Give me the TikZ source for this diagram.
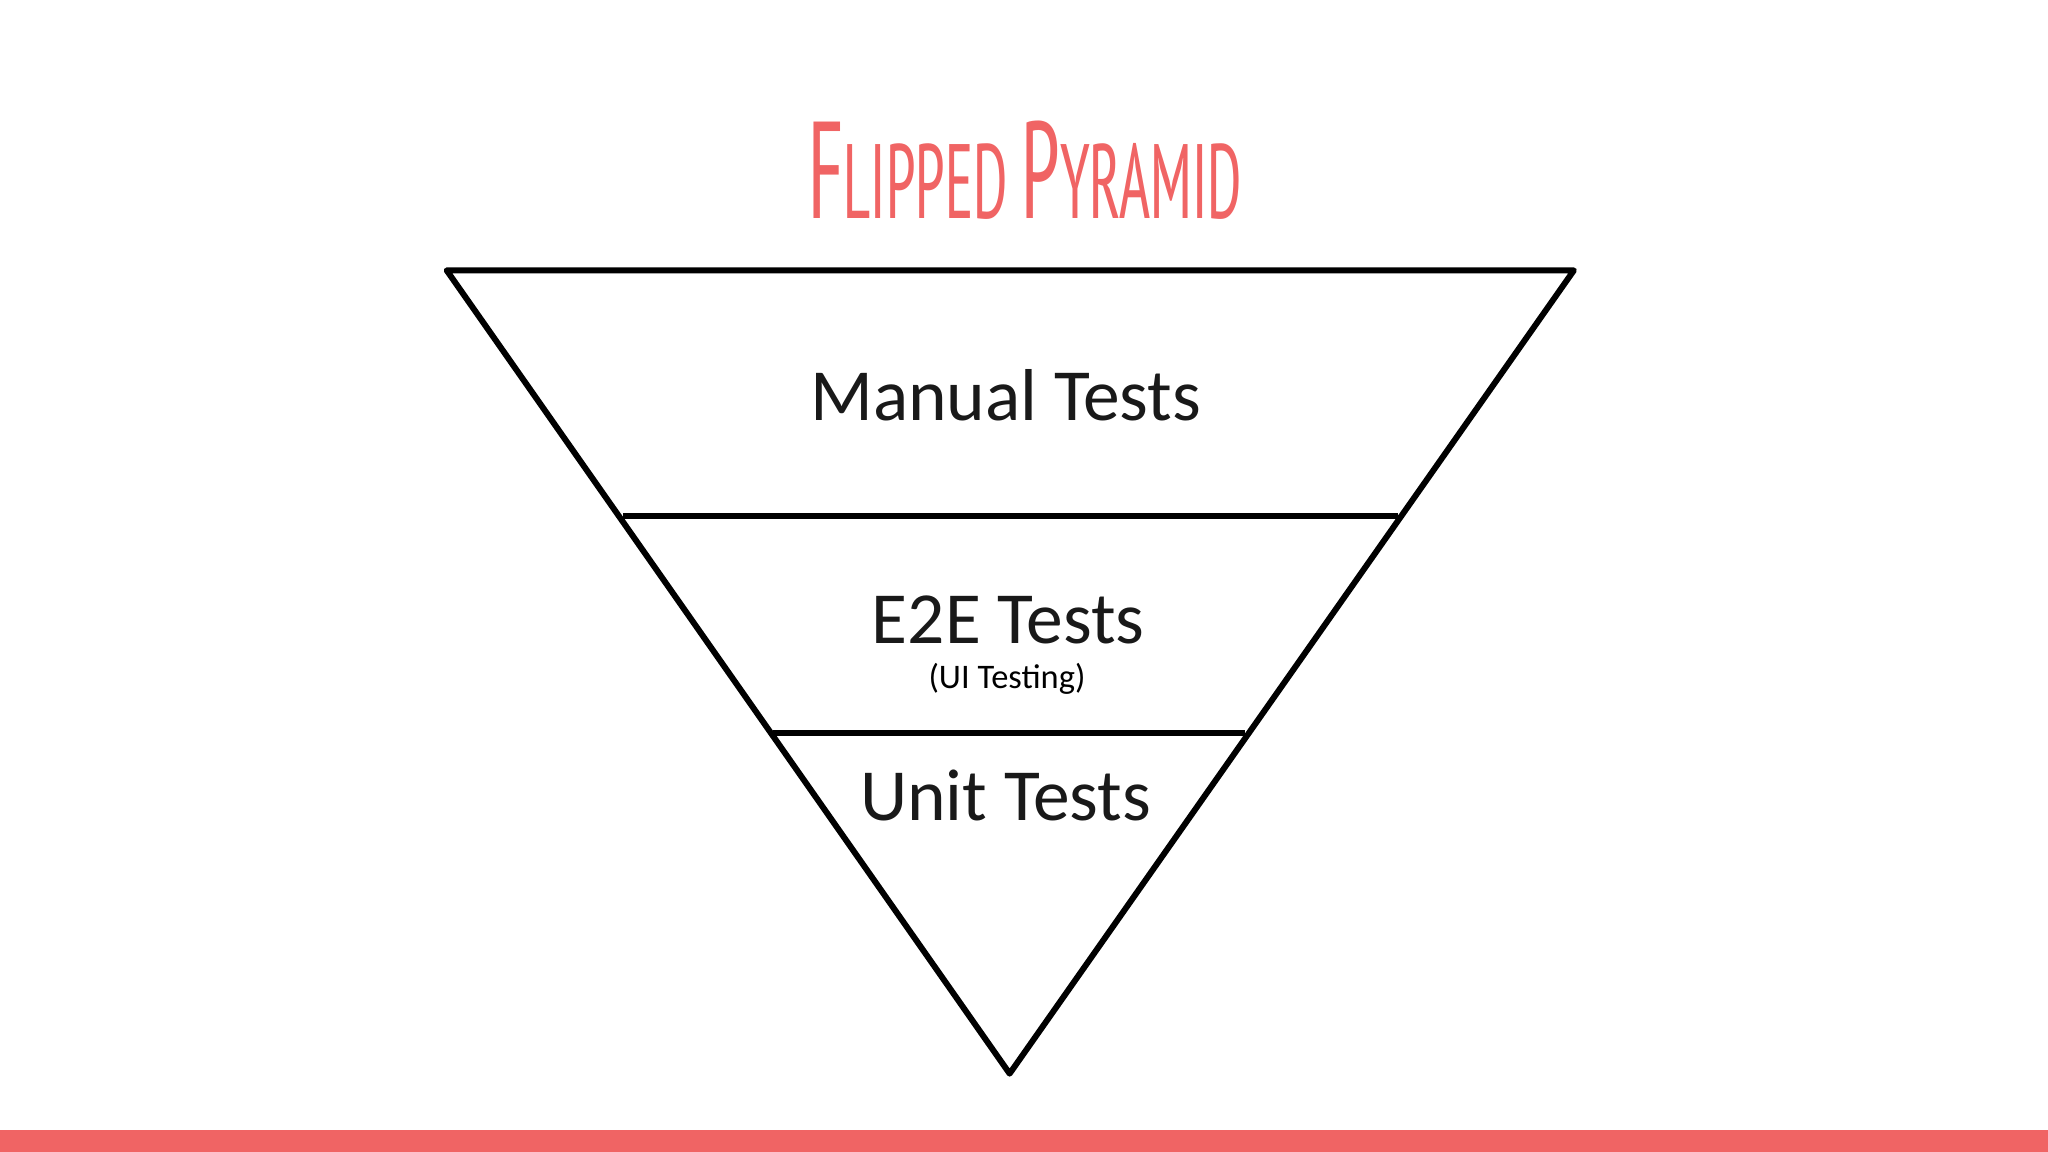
\documentclass[tikz,border=0pt]{standalone}
\usepackage{fontspec}
\setmainfont{Carlito}
\newfontfamily\titlefont{PT Sans Narrow}
\definecolor{salmon}{HTML}{F06464}
\begin{document}
\begin{tikzpicture}[x=0.01cm,y=-0.01cm,
  edge/.style={line width=1.3pt,line join=round},
  lab/.style={font=\fontsize{16}{16}\selectfont,text=black!90}]
\useasboundingbox (0,0) rectangle (1568,882);
\fill[salmon] (0,865) rectangle (1568,882);
\node[text=salmon, xscale=0.62, font=\titlefont] (title) at (785,130)
  {\fontsize{30}{30}\selectfont F\fontsize{23}{23}\selectfont LIPPED \fontsize{30}{30}\selectfont P\fontsize{23}{23}\selectfont YRAMID};
\coordinate (tl) at (342,207);
\coordinate (tr) at (1205,207);
\coordinate (b) at (773,822);
\coordinate (l1) at (477,395);
\coordinate (r1) at (1070,395);
\coordinate (l2) at (592,561);
\coordinate (r2) at (953,561);
\draw[edge] (tl) -- (tr) -- (b) -- cycle;
\draw[edge] (l1) -- (r1);
\draw[edge] (l2) -- (r2);
\node[lab] (manual) at (770,303) {Manual Tests};
\node[lab] (e2e) at (772,475) {E2E Tests};
\node[font=\fontsize{7.5}{8}\selectfont] (ui) at (771,520) {(UI Testing)};
\node[lab] (unit) at (770,609) {Unit Tests};
\end{tikzpicture}
\end{document}
